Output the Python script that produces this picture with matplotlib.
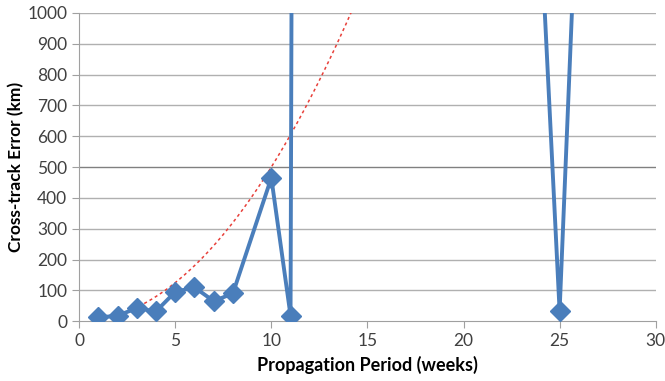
import numpy as np
import matplotlib.pyplot as plt

# weekly cross-track error (km); weeks 12-24 and 26 run off the top of the chart
weeks = [1, 2, 3, 4, 5, 6, 7, 8, 10, 11, 12, 24, 25, 26]
error_km = [12, 18, 42, 32, 95, 110, 65, 90, 465, 18, 20000, 1290, 33, 1545]

# dotted trendline (polynomial, order 2)
trend_coef = [5.0, 0.0, 0.0]
trend_x = np.linspace(1, 15, 200)

x_ticks = [0, 5, 10, 15, 20, 25, 30]
y_ticks = [0, 100, 200, 300, 400, 500, 600, 700, 800, 900, 1000]

plt.rcParams['font.family'] = ['Lato', 'DejaVu Sans']

fig = plt.figure(figsize=(6.65, 3.81), dpi=100)
ax = fig.add_axes([0.119, 0.157, 0.867, 0.809])

for yt in y_ticks[1:]:
    c = '#808080' if yt == 500 else '#b0b0b0'
    ax.axhline(yt, color=c, lw=1.0, zorder=1)

ax.plot(trend_x, np.polyval(trend_coef, trend_x), color='#e8403a', lw=1.1,
        ls=(0, (2, 2)), zorder=2)
ax.plot(weeks, error_km, color='#4a7ebb', lw=2.8, marker='D', markersize=10,
        zorder=3, clip_on=True)

ax.set_xlim(0, 30)
ax.set_ylim(0, 1000)
ax.set_xticks(x_ticks)
ax.set_yticks(y_ticks)
for s in ['top', 'right']:
    ax.spines[s].set_visible(False)
for s in ['left', 'bottom']:
    ax.spines[s].set_color('#a0a0a0')
ax.tick_params(axis='both', colors='#a0a0a0', labelcolor='#404040',
               labelsize=12.5, length=5, direction='out')
ax.set_xlabel('Propagation Period (weeks)', fontsize=13, fontweight='bold',
              labelpad=5)
ax.set_ylabel('Cross-track Error (km)', fontsize=12.5, fontweight='bold',
              labelpad=2)

fig.savefig('out.png', dpi=100)
